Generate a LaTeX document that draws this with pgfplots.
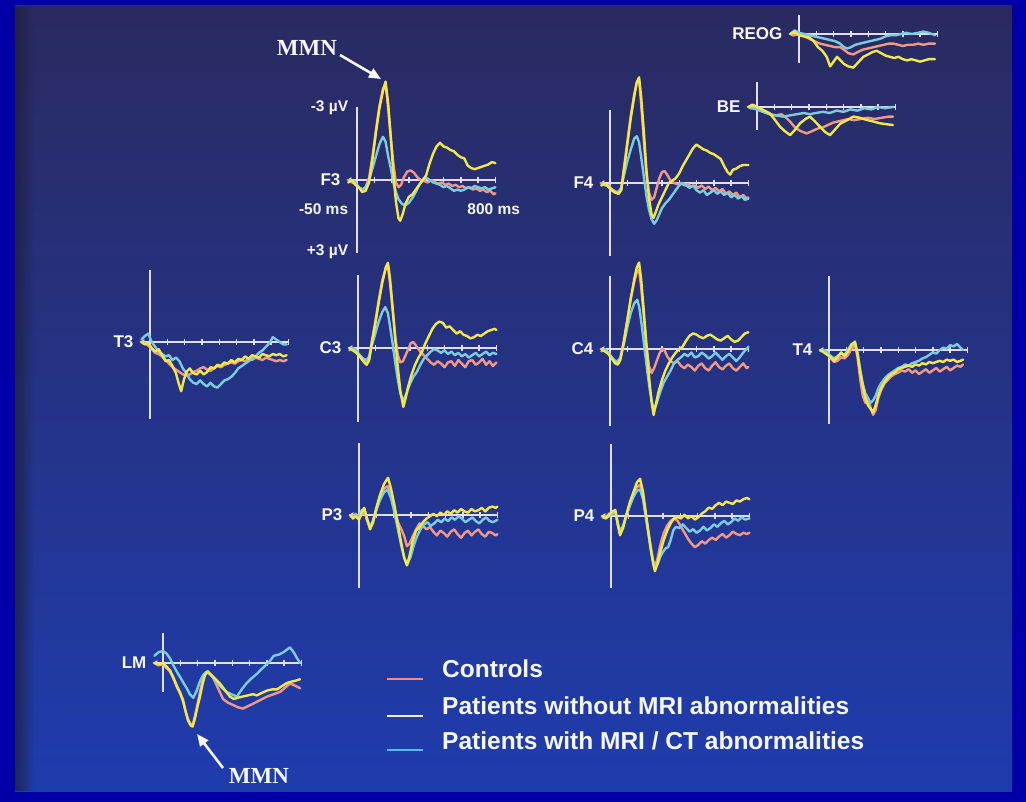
\documentclass[border=0pt]{standalone}
\usepackage{pgfplots}
\pgfplotsset{compat=1.18}
\usepackage{fontspec}
\setmainfont{Liberation Sans}
\newfontfamily\mmnfont{Liberation Serif}
\usetikzlibrary{arrows.meta,fadings}

\definecolor{framec}{HTML}{0000A6}
\definecolor{bgtop}{HTML}{2A2A60}
\definecolor{bgmid}{HTML}{212D8C}
\definecolor{bgbot}{HTML}{1F3CAE}
\definecolor{bgedge}{HTML}{1E1E3A}
\definecolor{axc}{HTML}{E2DEFF}
\definecolor{txtc}{HTML}{F6F6FF}
\definecolor{ctrlc}{HTML}{F09A86}
\definecolor{noabnc}{HTML}{F2E848}
\definecolor{abnc}{HTML}{7CCCE0}
\definecolor{legctrl}{HTML}{F08C8C}
\definecolor{legno}{HTML}{F6EEC8}
\definecolor{legab}{HTML}{58B8F0}

\tikzfading[name=fadeleft, left color=transparent!0, right color=transparent!100]

\pgfplotsset{
  erp/.style={hide axis, clip=false, anchor=origin,
    x=0.173pt, y=24pt, y dir=reverse,
    xmin=-60, xmax=810, ymin=-3.3, ymax=3.3},
  every axis plot/.append style={no markers, line width=2.4pt, line join=round, line cap=round},
}
\tikzset{
  axl/.style={draw=axc, line width=1.8pt},
  chan/.style={text=txtc, inner sep=0pt, font=\fontsize{17}{20}\selectfont\bfseries},
  small/.style={text=txtc, inner sep=0pt, font=\fontsize{15.5}{18}\selectfont\bfseries},
  legtext/.style={text=txtc, inner sep=0pt, font=\fontsize{24.5}{28}\selectfont\bfseries},
  mmn/.style={text=txtc, inner sep=0pt, font=\fontsize{23}{26}\selectfont\mmnfont\bfseries},
}
% channel frame: label, upper and lower end of the voltage bar (in microvolts)
\newcommand\erpframe[3]{%
  \draw[axl] (axis cs:0,#2) -- (axis cs:0,#3);
  \draw[axl, {Latex[length=5pt,width=6pt]}-] (axis cs:-62,0) -- (axis cs:800,0);
  \pgfplotsinvokeforeach{100,200,300,400,500,600,700,800}{%
    \draw[axc, line width=1.4pt] (axis cs:##1,-0.13) -- (axis cs:##1,0.13);}
  \node[chan, anchor=east] at (axis cs:-95,0) {#1};
}

\begin{document}
\begin{tikzpicture}
% slide background
\fill[framec] (0pt,0pt) rectangle (1026pt,-802pt);
\shade[top color=bgtop, middle color=bgmid, bottom color=bgbot] (15pt,-6pt) rectangle (1012pt,-791pt);
\fill[bgedge, opacity=0.75, path fading=fadeleft] (15pt,-6pt) rectangle (34pt,-791pt);

% ---------------- F3 ----------------
\begin{axis}[erp, at={(357pt,-180pt)}]
\erpframe{F3}{-3.04}{3.04}
\addplot[ctrlc] coordinates {(-50,0.0) (-30,0.1) (-10,0.15) (10,0.3) (30,0.4) (50,0.3) (70,-0.1) (90,-1.0) (110,-2.1) (130,-3.1) (150,-3.8) (165,-4.0) (180,-3.0) (195,-1.8) (210,-0.7) (225,0.1) (240,0.3) (255,0.2) (270,-0.1) (290,-0.35) (310,-0.4) (330,-0.3) (350,-0.1) (370,0.0) (390,0.05) (410,0.1) (430,0.0) (450,0.1) (470,0.15) (490,0.1) (510,0.2) (530,0.15) (550,0.25) (570,0.2) (590,0.3) (610,0.25) (630,0.35) (650,0.3) (670,0.4) (690,0.35) (710,0.45) (730,0.4) (750,0.5) (770,0.45) (790,0.6) (800,0.55)};
\addplot[abnc] coordinates {(-50,0.1) (-30,0.0) (-10,0.1) (10,0.3) (30,0.4) (50,0.3) (70,0.0) (90,-0.5) (110,-1.0) (130,-1.5) (150,-1.8) (165,-1.6) (180,-1.0) (195,-0.5) (210,0.1) (225,0.5) (240,0.8) (260,1.0) (280,1.05) (300,0.95) (320,0.75) (340,0.5) (360,0.2) (380,0.0) (400,-0.1) (420,0.0) (440,0.1) (460,0.15) (480,0.2) (500,0.3) (520,0.25) (540,0.35) (560,0.45) (580,0.4) (600,0.45) (620,0.4) (640,0.3) (660,0.35) (680,0.25) (700,0.3) (720,0.35) (740,0.3) (760,0.4) (780,0.35) (800,0.3)};
\addplot[noabnc] coordinates {(-50,0.1) (-30,0.0) (-10,0.2) (10,0.3) (30,0.5) (50,0.45) (70,0.1) (90,-0.9) (110,-2.0) (130,-3.0) (150,-3.7) (165,-4.1) (180,-3.2) (195,-1.8) (210,-0.3) (225,0.9) (240,1.6) (250,1.7) (265,1.4) (280,1.0) (300,0.7) (320,0.6) (340,0.4) (360,0.2) (380,0.0) (400,-0.2) (420,-0.7) (440,-1.1) (460,-1.4) (480,-1.55) (500,-1.4) (520,-1.35) (540,-1.25) (560,-1.2) (580,-1.05) (600,-0.95) (620,-0.9) (640,-0.6) (660,-0.5) (680,-0.45) (700,-0.5) (720,-0.55) (740,-0.6) (760,-0.65) (780,-0.75) (800,-0.7)};
\node[small, anchor=east] at (axis cs:-50,-3) {-3 µV};
\node[small, anchor=east] at (axis cs:-50,3) {+3 µV};
\node[small, anchor=east] at (axis cs:-50,1.2) {-50 ms};
\node[small] at (axis cs:790,1.2) {800 ms};
\end{axis}

% ---------------- F4 ----------------
\begin{axis}[erp, at={(610pt,-183pt)}]
\erpframe{F4}{-3.05}{3.05}
\addplot[ctrlc] coordinates {(-50,0.0) (-30,0.1) (-10,0.1) (10,0.25) (30,0.35) (50,0.4) (65,0.25) (80,-0.6) (100,-1.7) (120,-2.8) (140,-3.7) (155,-4.2) (168,-4.3) (180,-3.3) (195,-1.8) (210,-0.4) (225,0.4) (240,0.7) (255,0.6) (270,0.2) (285,-0.2) (300,-0.45) (315,-0.5) (330,-0.35) (350,-0.1) (370,0.0) (390,0.05) (410,0.0) (430,0.1) (450,0.05) (470,0.15) (490,0.1) (510,0.2) (530,0.1) (550,0.25) (570,0.15) (590,0.3) (610,0.2) (630,0.35) (650,0.25) (670,0.45) (690,0.35) (710,0.5) (730,0.4) (750,0.6) (770,0.5) (790,0.65) (800,0.6)};
\addplot[abnc] coordinates {(-50,0.1) (-30,0.05) (-10,0.15) (10,0.3) (30,0.4) (50,0.35) (65,0.2) (80,-0.3) (100,-0.9) (120,-1.4) (140,-1.85) (155,-1.95) (168,-1.7) (180,-1.1) (195,-0.3) (210,0.5) (225,1.1) (240,1.5) (255,1.7) (270,1.55) (285,1.3) (300,1.05) (320,0.85) (340,0.7) (360,0.5) (380,0.3) (400,0.1) (420,0.0) (440,0.1) (460,0.2) (480,0.1) (500,0.3) (520,0.4) (540,0.3) (560,0.5) (580,0.4) (600,0.3) (620,0.45) (640,0.35) (660,0.5) (680,0.4) (700,0.6) (720,0.5) (740,0.65) (760,0.55) (780,0.7) (800,0.65)};
\addplot[noabnc] coordinates {(-50,0.1) (-30,0.0) (-10,0.15) (10,0.3) (30,0.4) (50,0.45) (65,0.3) (80,-0.5) (100,-1.6) (120,-2.7) (140,-3.6) (155,-4.2) (168,-4.4) (180,-3.6) (195,-2.2) (210,-0.6) (225,0.6) (240,1.3) (252,1.45) (265,1.2) (280,0.9) (300,0.6) (320,0.3) (340,0.0) (360,-0.1) (380,-0.2) (400,-0.4) (420,-0.7) (440,-0.95) (460,-1.2) (480,-1.45) (500,-1.6) (520,-1.5) (540,-1.4) (560,-1.35) (580,-1.25) (600,-1.2) (620,-1.1) (640,-1.0) (660,-0.7) (680,-0.45) (695,-0.35) (710,-0.55) (730,-0.6) (750,-0.7) (770,-0.75) (790,-0.75) (800,-0.75)};
\end{axis}

% ---------------- REOG ----------------
\begin{axis}[erp, at={(799pt,-34pt)}]
\erpframe{REOG}{-0.8}{1.2}
\addplot[ctrlc] coordinates {(-50,0.0) (-25,0.05) (0,0.0) (30,0.1) (60,0.2) (90,0.3) (121,0.4) (150,0.45) (180,0.5) (210,0.55) (237,0.55) (260,0.65) (285,0.8) (314,0.85) (340,0.75) (370,0.65) (400,0.6) (430,0.55) (460,0.5) (490,0.45) (520,0.4) (545,0.4) (575,0.45) (600,0.5) (630,0.45) (660,0.45) (690,0.4) (720,0.45) (750,0.4) (786,0.4)};
\addplot[abnc] coordinates {(-50,0.0) (-25,-0.15) (0,-0.05) (30,0.0) (60,0.05) (90,0.1) (120,0.15) (150,0.2) (180,0.25) (210,0.3) (237,0.4) (260,0.55) (280,0.6) (300,0.55) (325,0.45) (352,0.4) (380,0.35) (410,0.3) (440,0.25) (470,0.2) (500,0.1) (530,0.05) (560,0.05) (590,0.0) (620,-0.05) (650,0.0) (690,-0.05) (720,-0.1) (750,-0.05) (786,0.05)};
\addplot[noabnc] coordinates {(-50,0.0) (-25,-0.1) (0,0.05) (30,0.1) (60,0.15) (85,0.3) (110,0.55) (135,0.7) (160,0.95) (180,1.35) (200,1.15) (220,0.95) (240,1.1) (260,1.25) (285,1.35) (314,1.4) (340,1.2) (372,0.95) (400,0.85) (425,0.75) (449,0.7) (475,0.8) (500,0.9) (525,0.95) (550,1.0) (575,0.95) (600,1.05) (625,1.1) (650,1.05) (675,1.1) (700,1.15) (725,1.1) (750,1.05) (786,1.05)};
\end{axis}

% ---------------- BE ----------------
\begin{axis}[erp, at={(757pt,-107pt)}]
\erpframe{BE}{-1.05}{0.95}
\addplot[ctrlc] coordinates {(-50,0.0) (-25,0.05) (0,0.1) (35,0.2) (73,0.3) (110,0.35) (140,0.3) (162,0.4) (190,0.6) (220,0.85) (250,1.0) (287,1.1) (320,1.0) (350,0.9) (380,0.85) (410,0.75) (440,0.65) (470,0.6) (500,0.55) (530,0.5) (560,0.55) (600,0.5) (640,0.45) (680,0.5) (720,0.45) (760,0.4) (786,0.4)};
\addplot[abnc] coordinates {(-50,0.0) (-25,0.05) (0,0.1) (35,0.2) (73,0.3) (110,0.35) (150,0.4) (190,0.35) (230,0.3) (270,0.25) (306,0.3) (340,0.25) (380,0.2) (420,0.25) (460,0.15) (500,0.2) (540,0.1) (580,0.15) (620,0.05) (660,0.1) (700,0.0) (740,0.05) (786,0.0)};
\addplot[noabnc] coordinates {(-50,0.0) (-25,-0.1) (0,0.0) (35,0.12) (73,0.26) (100,0.5) (133,0.82) (160,1.0) (191,1.17) (220,0.95) (249,0.68) (280,0.5) (306,0.4) (335,0.6) (364,0.82) (395,1.05) (422,1.17) (450,0.95) (480,0.7) (520,0.55) (557,0.4) (595,0.45) (634,0.54) (670,0.6) (711,0.68) (750,0.72) (786,0.75)};
\end{axis}

% ---------------- T3 ----------------
\begin{axis}[erp, at={(150pt,-342pt)}]
\erpframe{T3}{-3.0}{3.2}
\addplot[ctrlc] coordinates {(-50,0.0) (-30,0.05) (-10,0.15) (10,0.3) (30,0.45) (50,0.5) (70,0.6) (90,0.75) (110,0.9) (130,1.05) (150,1.15) (170,1.25) (190,1.35) (210,1.4) (230,1.35) (250,1.25) (270,1.2) (290,1.1) (310,1.05) (330,1.15) (350,1.2) (370,1.1) (390,1.0) (410,1.05) (430,0.95) (450,0.9) (470,0.85) (490,0.9) (510,0.8) (530,0.75) (550,0.8) (570,0.7) (590,0.75) (610,0.65) (630,0.7) (650,0.75) (670,0.65) (690,0.7) (710,0.75) (730,0.8) (750,0.75) (770,0.8) (790,0.75)};
\addplot[abnc] coordinates {(-50,-0.1) (-30,-0.25) (-10,-0.35) (10,0.0) (30,0.2) (50,0.4) (70,0.5) (90,0.6) (110,0.55) (130,0.75) (150,0.65) (170,0.8) (190,1.1) (210,1.3) (230,1.55) (250,1.7) (270,1.75) (290,1.6) (310,1.75) (330,1.85) (350,1.7) (370,1.85) (390,1.9) (410,1.75) (430,1.6) (450,1.55) (470,1.45) (490,1.3) (510,1.1) (530,1.0) (550,0.9) (570,0.8) (590,0.7) (610,0.6) (630,0.45) (650,0.35) (670,0.2) (690,0.05) (710,-0.2) (730,-0.1) (750,0.0) (770,0.1) (790,0.1)};
\addplot[noabnc] coordinates {(-50,0.0) (-30,0.1) (-10,0.05) (10,0.25) (30,0.4) (50,0.3) (70,0.55) (90,0.8) (110,0.75) (130,1.0) (150,1.3) (165,1.7) (180,2.05) (195,1.6) (210,1.25) (230,1.1) (250,1.3) (270,1.35) (290,1.2) (310,1.35) (330,1.25) (350,1.05) (370,1.1) (390,0.95) (410,1.0) (430,0.85) (450,0.9) (470,0.75) (490,0.85) (510,0.7) (530,0.75) (550,0.6) (570,0.7) (590,0.55) (610,0.6) (630,0.65) (650,0.5) (670,0.55) (690,0.6) (710,0.5) (730,0.55) (750,0.5) (770,0.6) (790,0.55)};
\end{axis}

% ---------------- C3 ----------------
\begin{axis}[erp, at={(358pt,-348pt)}]
\erpframe{C3}{-3.05}{3.1}
\addplot[ctrlc] coordinates {(-50,0.0) (-30,0.05) (-10,0.15) (10,0.3) (30,0.45) (50,0.55) (65,0.4) (80,-0.3) (100,-1.1) (120,-2.0) (140,-2.8) (160,-3.3) (173,-3.4) (185,-2.7) (200,-1.6) (215,-0.5) (230,0.3) (245,0.6) (260,0.55) (275,0.3) (290,0.05) (305,-0.2) (320,-0.25) (340,-0.05) (360,0.15) (380,0.3) (400,0.45) (420,0.6) (440,0.7) (460,0.55) (480,0.65) (500,0.8) (520,0.6) (540,0.55) (560,0.75) (580,0.5) (600,0.65) (620,0.8) (640,0.55) (660,0.5) (680,0.7) (700,0.6) (720,0.45) (740,0.7) (760,0.55) (780,0.75) (800,0.6)};
\addplot[abnc] coordinates {(-50,0.1) (-30,0.0) (-10,0.1) (10,0.3) (30,0.45) (50,0.5) (65,0.35) (80,-0.1) (100,-0.6) (120,-1.1) (140,-1.5) (158,-1.7) (173,-1.45) (185,-0.9) (200,-0.2) (215,0.6) (230,1.3) (245,1.9) (262,2.2) (280,1.9) (300,1.5) (320,1.2) (340,1.0) (360,0.7) (380,0.45) (400,0.3) (420,0.15) (440,0.05) (460,0.1) (480,0.2) (500,0.1) (520,0.25) (540,0.15) (560,0.3) (580,0.2) (600,0.35) (620,0.25) (640,0.4) (660,0.3) (680,0.2) (700,0.35) (720,0.25) (740,0.15) (760,0.3) (780,0.2) (800,0.25)};
\addplot[noabnc] coordinates {(-50,0.0) (-30,0.1) (-10,0.2) (10,0.35) (30,0.55) (50,0.7) (65,0.5) (80,-0.2) (100,-1.0) (120,-1.9) (140,-2.7) (160,-3.35) (173,-3.55) (185,-2.9) (200,-1.7) (215,-0.4) (230,0.8) (245,1.8) (262,2.45) (275,2.1) (290,1.6) (310,1.1) (330,0.7) (350,0.4) (370,0.15) (390,-0.2) (410,-0.5) (430,-0.8) (450,-1.0) (470,-1.1) (490,-1.05) (510,-0.85) (530,-0.9) (550,-0.75) (570,-0.6) (590,-0.7) (610,-0.55) (630,-0.5) (650,-0.4) (670,-0.45) (690,-0.55) (710,-0.5) (730,-0.6) (750,-0.7) (770,-0.75) (790,-0.8) (800,-0.75)};
\end{axis}

% ---------------- C4 ----------------
\begin{axis}[erp, at={(610pt,-349pt)}]
\erpframe{C4}{-3.05}{3.2}
\addplot[ctrlc] coordinates {(-50,0.0) (-30,0.05) (-10,0.15) (10,0.35) (30,0.5) (45,0.55) (60,0.4) (80,-0.35) (100,-1.2) (120,-2.1) (140,-2.8) (155,-3.2) (168,-3.3) (180,-2.6) (195,-1.4) (210,-0.2) (225,0.7) (240,1.0) (255,0.8) (270,0.5) (285,0.2) (300,0.0) (315,0.05) (330,0.3) (350,0.5) (370,0.6) (390,0.5) (410,0.7) (430,0.8) (450,0.65) (470,0.75) (490,0.9) (510,0.7) (530,0.6) (550,0.8) (570,0.9) (590,0.7) (610,0.55) (630,0.75) (650,0.85) (670,0.7) (690,0.6) (710,0.8) (730,0.9) (750,0.75) (770,0.6) (790,0.8) (800,0.75)};
\addplot[abnc] coordinates {(-50,0.1) (-30,0.0) (-10,0.15) (10,0.35) (30,0.5) (45,0.5) (60,0.35) (80,-0.2) (100,-0.9) (120,-1.5) (140,-1.9) (158,-2.05) (170,-1.7) (185,-0.9) (200,0.0) (215,0.9) (230,1.7) (245,2.3) (258,2.5) (272,2.2) (290,1.8) (310,1.4) (330,1.15) (350,0.9) (370,0.6) (390,0.45) (410,0.35) (430,0.2) (450,0.3) (470,0.15) (490,0.35) (510,0.3) (530,0.15) (550,0.25) (570,0.4) (590,0.3) (610,0.15) (630,0.3) (650,0.45) (670,0.3) (690,0.2) (710,0.35) (730,0.5) (750,0.35) (770,0.15) (790,0.0) (800,-0.1)};
\addplot[noabnc] coordinates {(-50,0.0) (-30,0.1) (-10,0.2) (10,0.4) (30,0.6) (45,0.65) (60,0.45) (80,-0.3) (100,-1.2) (120,-2.1) (140,-2.9) (155,-3.4) (168,-3.6) (180,-2.9) (195,-1.6) (210,-0.2) (225,1.1) (240,2.2) (252,2.75) (265,2.3) (280,1.8) (300,1.3) (320,0.9) (340,0.6) (360,0.35) (380,0.15) (400,0.0) (420,-0.1) (440,-0.35) (460,-0.55) (480,-0.65) (500,-0.6) (520,-0.5) (540,-0.45) (560,-0.55) (580,-0.6) (600,-0.5) (620,-0.4) (640,-0.35) (660,-0.45) (680,-0.55) (700,-0.4) (720,-0.3) (740,-0.35) (760,-0.5) (780,-0.65) (800,-0.7)};
\end{axis}

% ---------------- T4 ----------------
\begin{axis}[erp, at={(829pt,-350pt)}]
\erpframe{T4}{-3.1}{3.1}
\addplot[ctrlc] coordinates {(-50,0.0) (-30,0.05) (-10,0.15) (10,0.35) (30,0.5) (50,0.45) (70,0.3) (90,0.35) (110,0.2) (130,-0.05) (150,-0.2) (165,0.3) (180,1.2) (195,1.9) (210,2.2) (225,2.0) (240,2.4) (255,2.7) (270,2.5) (285,2.0) (300,1.7) (320,1.4) (340,1.25) (360,1.1) (380,1.0) (400,0.95) (420,0.85) (440,0.9) (460,0.8) (480,0.95) (500,0.85) (520,1.0) (540,0.9) (560,0.8) (580,0.95) (600,0.85) (620,0.75) (640,0.9) (660,0.8) (680,0.7) (700,0.85) (720,0.75) (740,0.65) (760,0.7) (775,0.6)};
\addplot[abnc] coordinates {(-50,0.05) (-30,0.0) (-10,0.1) (10,0.25) (30,0.35) (50,0.25) (70,0.15) (90,0.2) (110,0.0) (130,-0.25) (150,-0.3) (165,0.1) (180,0.8) (195,1.4) (210,1.8) (225,2.0) (240,2.2) (255,2.1) (270,1.9) (285,1.6) (300,1.4) (320,1.2) (340,1.05) (360,0.95) (380,0.85) (400,0.75) (420,0.7) (440,0.6) (460,0.65) (480,0.55) (500,0.5) (520,0.45) (540,0.35) (560,0.3) (580,0.2) (600,0.1) (620,0.15) (640,0.0) (660,-0.1) (680,-0.05) (700,-0.2) (720,-0.15) (740,-0.25) (760,-0.1) (775,0.0)};
\addplot[noabnc] coordinates {(-50,0.0) (-30,0.1) (-10,0.2) (10,0.3) (30,0.45) (50,0.3) (70,0.1) (90,0.25) (110,0.05) (130,-0.2) (150,-0.35) (165,0.2) (180,0.9) (195,1.5) (210,2.0) (225,2.3) (240,2.45) (255,2.6) (270,2.3) (285,1.9) (300,1.6) (320,1.35) (340,1.15) (360,1.0) (380,0.95) (400,0.8) (420,0.75) (440,0.7) (460,0.65) (480,0.7) (500,0.6) (520,0.65) (540,0.55) (560,0.6) (580,0.5) (600,0.55) (620,0.5) (640,0.45) (660,0.5) (680,0.4) (700,0.45) (720,0.4) (740,0.5) (760,0.45) (775,0.4)};
\end{axis}

% ---------------- P3 ----------------
\begin{axis}[erp, at={(359pt,-515pt)}]
\erpframe{P3}{-3.0}{3.05}
\addplot[ctrlc] coordinates {(-50,0.0) (-35,0.1) (-20,-0.05) (0,0.15) (15,0.0) (30,-0.2) (45,0.2) (64,0.55) (80,0.35) (100,-0.2) (120,-0.7) (145,-1.1) (165,-1.2) (185,-0.8) (205,-0.2) (225,0.3) (245,0.6) (262,0.9) (277,1.3) (292,1.2) (310,0.9) (330,0.6) (350,0.35) (370,0.45) (390,0.6) (410,0.5) (430,0.7) (450,0.85) (470,0.65) (490,0.75) (510,0.9) (530,0.7) (550,0.6) (570,0.8) (590,0.95) (610,0.75) (630,0.65) (650,0.85) (670,0.7) (690,0.6) (710,0.8) (730,0.9) (750,0.7) (770,0.75) (790,0.85) (800,0.8)};
\addplot[abnc] coordinates {(-50,0.05) (-35,0.1) (-20,0.0) (0,0.1) (15,-0.2) (30,-0.25) (45,0.15) (64,0.5) (80,0.25) (100,-0.2) (120,-0.6) (145,-0.95) (165,-1.05) (185,-0.7) (205,-0.1) (225,0.6) (245,1.3) (262,1.8) (280,2.05) (298,1.75) (315,1.3) (335,0.9) (355,0.6) (375,0.4) (395,0.3) (415,0.45) (435,0.35) (455,0.2) (475,0.3) (495,0.15) (515,0.25) (535,0.1) (555,0.2) (575,0.05) (595,0.15) (615,0.3) (635,0.2) (655,0.1) (675,0.25) (695,0.35) (715,0.2) (735,0.1) (755,0.25) (775,0.3) (800,0.2)};
\addplot[noabnc] coordinates {(-50,0.0) (-35,0.15) (-20,0.05) (0,0.2) (15,-0.1) (30,-0.3) (45,0.1) (64,0.6) (80,0.3) (100,-0.3) (120,-0.8) (145,-1.3) (168,-1.55) (185,-1.1) (205,-0.4) (225,0.4) (245,1.2) (262,1.8) (277,2.1) (292,1.7) (310,1.1) (330,0.65) (350,0.5) (370,0.3) (390,0.15) (410,0.05) (430,-0.05) (450,0.05) (470,-0.1) (490,0.0) (510,-0.15) (530,-0.05) (550,-0.2) (570,-0.1) (590,-0.25) (610,-0.15) (630,-0.1) (650,-0.25) (670,-0.15) (690,-0.2) (710,-0.3) (730,-0.15) (750,-0.3) (770,-0.35) (790,-0.3) (800,-0.35)};
\end{axis}

% ---------------- P4 ----------------
\begin{axis}[erp, at={(611pt,-516pt)}]
\erpframe{P4}{-3.0}{3.0}
\addplot[ctrlc] coordinates {(-50,0.0) (-30,0.05) (-10,-0.1) (10,-0.15) (25,-0.2) (40,0.35) (52,0.7) (70,0.45) (90,-0.05) (110,-0.5) (130,-0.9) (150,-1.2) (168,-1.3) (185,-0.8) (200,-0.1) (215,0.6) (230,1.3) (244,1.9) (254,2.1) (268,1.8) (285,1.2) (305,0.7) (325,0.4) (345,0.2) (365,0.1) (385,0.2) (405,0.45) (425,0.7) (445,0.95) (465,1.15) (485,1.3) (505,1.2) (525,1.05) (545,1.15) (565,1.0) (585,0.9) (605,1.0) (625,0.85) (645,0.75) (665,0.9) (685,0.8) (705,0.65) (725,0.75) (745,0.8) (765,0.7) (785,0.75) (800,0.7)};
\addplot[abnc] coordinates {(-50,0.05) (-30,0.1) (-10,0.0) (10,-0.1) (25,-0.15) (40,0.3) (52,0.65) (70,0.4) (90,-0.05) (110,-0.45) (130,-0.8) (150,-1.05) (168,-1.1) (185,-0.7) (200,0.0) (215,0.7) (230,1.4) (244,1.9) (256,2.15) (270,2.0) (285,1.7) (300,1.5) (315,1.35) (330,1.3) (345,1.0) (360,0.6) (375,0.45) (395,0.5) (415,0.35) (435,0.5) (455,0.65) (475,0.55) (495,0.7) (515,0.6) (535,0.45) (555,0.6) (575,0.5) (595,0.35) (615,0.45) (635,0.3) (655,0.2) (675,0.35) (695,0.25) (715,0.1) (735,0.2) (755,0.05) (775,0.15) (800,0.1)};
\addplot[noabnc] coordinates {(-50,0.0) (-30,0.1) (-10,-0.05) (10,-0.2) (25,-0.25) (40,0.4) (52,0.8) (70,0.5) (90,-0.1) (110,-0.6) (130,-1.0) (150,-1.4) (168,-1.55) (185,-1.0) (200,-0.2) (215,0.6) (230,1.4) (244,2.0) (254,2.3) (268,2.0) (285,1.5) (305,1.0) (325,0.6) (345,0.3) (365,0.1) (385,0.05) (405,0.1) (425,-0.05) (445,0.1) (465,0.0) (485,0.15) (505,0.05) (525,-0.1) (545,-0.2) (565,-0.35) (585,-0.3) (605,-0.45) (625,-0.55) (645,-0.45) (665,-0.6) (685,-0.55) (705,-0.5) (725,-0.65) (745,-0.6) (765,-0.7) (785,-0.75) (800,-0.7)};
\end{axis}

% ---------------- LM ----------------
\begin{axis}[erp, at={(163pt,-663pt)}]
\erpframe{LM}{-1.25}{1.2}
\addplot[ctrlc] coordinates {(-50,0.0) (-25,0.1) (0,0.05) (20,0.2) (40,0.35) (60,0.65) (80,1.0) (100,1.3) (116,1.6) (130,2.0) (145,2.35) (160,2.55) (171,2.6) (185,2.2) (200,1.7) (214,1.2) (228,0.75) (243,0.45) (260,0.4) (289,0.6) (318,1.05) (347,1.5) (375,1.65) (405,1.75) (435,1.85) (462,1.9) (490,1.8) (520,1.7) (560,1.55) (601,1.4) (640,1.3) (678,1.2) (710,1.0) (736,0.85) (765,0.95) (792,1.05)};
\addplot[abnc] coordinates {(-50,-0.3) (-25,-0.45) (0,-0.5) (20,-0.4) (40,-0.2) (60,0.1) (79,0.35) (100,0.6) (120,0.85) (137,1.05) (155,1.3) (175,1.45) (195,1.15) (214,0.75) (232,0.5) (252,0.35) (270,0.45) (289,0.6) (310,0.8) (335,1.0) (366,1.2) (395,1.3) (427,1.4) (455,1.1) (482,0.85) (510,0.65) (543,0.45) (570,0.25) (601,0.05) (620,-0.1) (640,-0.3) (670,-0.35) (697,-0.45) (715,-0.55) (734,-0.65) (755,-0.45) (771,-0.25) (792,0.0)};
\addplot[noabnc] coordinates {(-50,0.0) (-25,0.05) (0,0.0) (20,0.15) (40,0.3) (60,0.6) (80,0.95) (100,1.25) (116,1.55) (130,2.0) (145,2.4) (160,2.6) (171,2.65) (185,2.3) (200,1.8) (214,1.4) (228,0.9) (243,0.5) (260,0.35) (280,0.5) (300,0.65) (329,0.85) (355,1.1) (387,1.4) (410,1.5) (430,1.45) (460,1.4) (490,1.35) (520,1.3) (543,1.35) (570,1.25) (601,1.15) (630,1.1) (659,1.1) (690,0.95) (717,0.83) (740,0.78) (760,0.75) (792,0.68)};
\end{axis}

% MMN annotations
\node[mmn] at (307pt,-48pt) {MMN};
\draw[txtc, line width=2.6pt, -{Triangle[length=12pt,width=10pt]}] (340pt,-55pt) -- (381pt,-79pt);
\node[mmn] at (259pt,-776pt) {MMN};
\draw[txtc, line width=2.6pt, -{Triangle[length=12pt,width=10pt]}] (223pt,-768pt) -- (197pt,-734pt);

% legend
\draw[legctrl, line width=2.4pt] (387pt,-679pt) -- (423pt,-679pt);
\node[legtext, anchor=base west] at (442pt,-677pt) {Controls};
\draw[legno, line width=2.4pt] (387pt,-716pt) -- (423pt,-716pt);
\node[legtext, anchor=base west] at (442pt,-714pt) {Patients without MRI abnormalities};
\draw[legab, line width=2.4pt] (387pt,-750pt) -- (423pt,-750pt);
\node[legtext, anchor=base west] at (442pt,-749pt) {Patients with MRI / CT abnormalities};

\pgfresetboundingbox
\path[use as bounding box] (0pt,0pt) rectangle (1026pt,-802pt);
\end{tikzpicture}
\end{document}
